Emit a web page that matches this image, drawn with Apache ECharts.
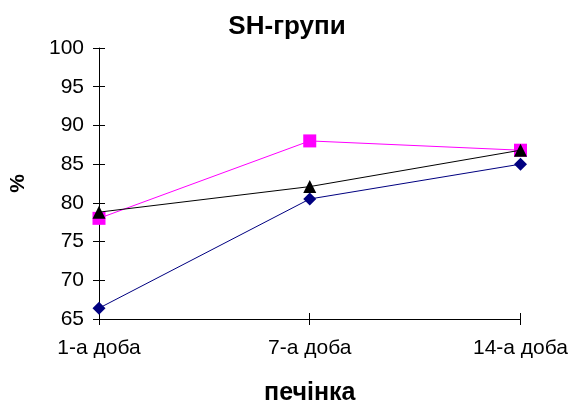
<!DOCTYPE html>
<html>
<head>
<meta charset="utf-8">
<script src="https://cdn.jsdelivr.net/npm/echarts@6/dist/echarts.min.js"></script>
<style>
  html, body { margin: 0; padding: 0; background: #fff; }
  #chart { width: 571px; height: 411px; }
</style>
</head>
<body>
<div id="chart"></div>
<script>
// Days of observation (liver tissue)
const categories = ['1-а доба', '7-а доба', '14-а доба'];
// SH-group levels, %
const seriesBlue = [66.4, 80.5, 85.0];
const seriesMagenta = [78.0, 88.0, 86.8];
const seriesBlack = [78.8, 82.1, 86.8];
const yTicks = { min: 65, max: 100, step: 5 };

const FONT = '"Liberation Sans", Arial, sans-serif';
const chart = echarts.init(document.getElementById('chart'));

const baseX = {
  type: 'category',
  data: categories,
  boundaryGap: false,
  gridIndex: 0
};
const baseY = {
  type: 'value',
  min: yTicks.min,
  max: yTicks.max,
  interval: yTicks.step,
  gridIndex: 0
};

chart.setOption({
  animation: false,
  backgroundColor: '#fff',
  title: {
    text: 'SH-групи',
    left: 282,
    textAlign: 'center',
    top: 9,
    textStyle: { fontFamily: FONT, fontSize: 26, fontWeight: 'bold', color: '#000' }
  },
  grid: { left: 93, right: 49, top: 48, bottom: 83, containLabel: false },
  xAxis: [
    Object.assign({}, baseX, {
      name: 'печінка',
      nameLocation: 'middle',
      nameGap: 62,
      nameTextStyle: { fontFamily: FONT, fontSize: 25, fontWeight: 'bold', color: '#000' },
      axisLine: { lineStyle: { color: '#000', width: 1 } },
      axisTick: { show: true, length: 6, alignWithLabel: true, lineStyle: { color: '#000' } },
      axisLabel: { fontFamily: FONT, fontSize: 21, color: '#000', margin: 19 },
      splitLine: { show: false }
    }),
    // inner half of the crossing tick marks
    Object.assign({}, baseX, {
      position: 'bottom',
      axisLine: { show: false },
      axisTick: { show: true, inside: true, length: 6, lineStyle: { color: '#000' } },
      axisLabel: { show: false },
      splitLine: { show: false }
    })
  ],
  yAxis: [
    Object.assign({}, baseY, {
      name: '%',
      nameLocation: 'middle',
      nameGap: 70,
      nameRotate: 90,
      nameTextStyle: { fontFamily: FONT, fontSize: 21, fontWeight: 'bold', color: '#000' },
      axisLine: { show: true, lineStyle: { color: '#000', width: 1 } },
      axisTick: { show: true, length: 6, lineStyle: { color: '#000' } },
      axisLabel: { fontFamily: FONT, fontSize: 21, color: '#000', margin: 15 },
      splitLine: { show: false }
    }),
    Object.assign({}, baseY, {
      position: 'left',
      axisLine: { show: false },
      axisTick: { show: true, inside: true, length: 6, lineStyle: { color: '#000' } },
      axisLabel: { show: false },
      splitLine: { show: false }
    })
  ],
  series: [
    {
      name: 'blue',
      type: 'line',
      data: seriesBlue,
      symbol: 'diamond',
      symbolSize: 13,
      itemStyle: { color: '#000080' },
      lineStyle: { color: '#000080', width: 1 },
      z: 2
    },
    {
      name: 'magenta',
      type: 'line',
      data: seriesMagenta,
      symbol: 'rect',
      symbolSize: 13,
      itemStyle: { color: '#ff00ff' },
      lineStyle: { color: '#ff00ff', width: 1 },
      z: 3
    },
    {
      name: 'black',
      type: 'line',
      data: seriesBlack,
      symbol: 'triangle',
      symbolSize: 13,
      itemStyle: { color: '#000' },
      lineStyle: { color: '#000', width: 1 },
      z: 4
    }
  ]
});
</script>
</body>
</html>
